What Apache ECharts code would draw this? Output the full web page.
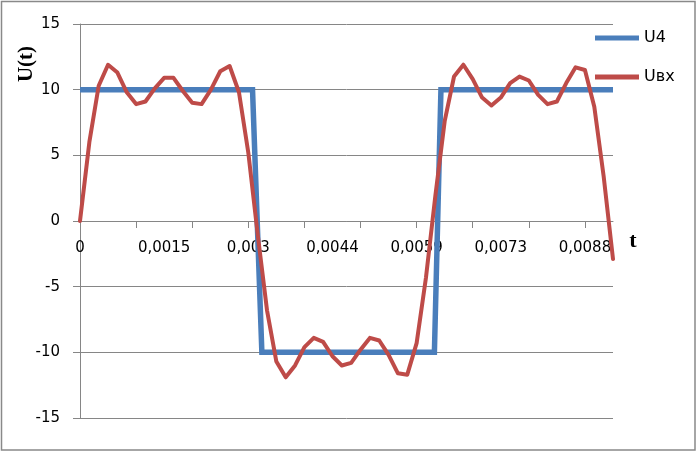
<!DOCTYPE html>
<html><head><meta charset="utf-8">
<script src="https://cdn.jsdelivr.net/npm/echarts@6/dist/echarts.min.js"></script>
<style>html,body{margin:0;padding:0;background:#fff}#c{width:697px;height:452px}</style>
</head><body><div id="c"></div>
<script>
// x tick labels shown every 9th sample
const tickLabels = ["0", "0,0015", "0,003", "0,0044", "0,0059", "0,0073", "0,0088"];
// Uвх sampled values (58 samples)
const uvx = [0, 6.0, 10.3, 11.9, 11.3, 9.8, 8.9, 9.1, 10.1, 10.9, 10.9, 9.9, 9.0, 8.9, 10.0, 11.4, 11.8, 9.8, 5.2, -1.0,
  -6.8, -10.7, -11.9, -11.0, -9.6, -8.9, -9.2, -10.3, -11.0, -10.8, -9.8, -8.9, -9.1, -10.2, -11.6, -11.7, -9.3, -4.3, 1.9,
  7.6, 11.0, 11.9, 10.8, 9.4, 8.8, 9.4, 10.5, 11.0, 10.7, 9.6, 8.9, 9.1, 10.5, 11.7, 11.5, 8.7, 3.4, -2.9];
// U4 square wave corners (position in sample units, value)
const u4X = [0, 18.45, 19.45, 37.9, 38.6, 57];
const u4Y = [10, 10, -10, -10, 10, 10];
const seriesNames = ["U4", "Uвх"];

const categories = uvx.map((_, i) => String(i));
const gray = '#868686';
const font = 'DejaVu Sans';
const gridTop = 24, gridBottom = 34, H = 452;
// the x axis sits on the zero line, which is the middle of the -15..15 range
const zeroOffset = -(H - gridTop - gridBottom) / 2;
const chart = echarts.init(document.getElementById('c'), null, {renderer: 'canvas'});
chart.setOption({
  animation: false,
  backgroundColor: '#fff',
  grid: {left: 80, right: 84, top: gridTop, bottom: gridBottom, containLabel: false},
  legend: {
    orient: 'vertical', left: 595, top: 30, padding: 0,
    itemWidth: 44, itemHeight: 5, itemGap: 23, icon: 'rect',
    textStyle: {fontFamily: font, fontSize: 16, color: '#000', lineHeight: 16},
    data: seriesNames
  },
  xAxis: [{
    type: 'category', data: categories, boundaryGap: false, position: 'bottom', offset: zeroOffset,
    axisLine: {onZero: false, lineStyle: {color: gray, width: 1}},
    axisTick: {show: true, interval: 5, length: 7, lineStyle: {color: gray}},
    axisLabel: {interval: 8, margin: 20, color: '#000', fontFamily: font, fontSize: 15,
      formatter: (v, i) => (i % 9 === 0 && tickLabels[i / 9] !== undefined) ? tickLabels[i / 9] : ''},
    splitLine: {show: false}
  }, {
    type: 'value', min: 0, max: uvx.length - 1, show: false
  }],
  yAxis: {
    type: 'value', min: -15, max: 15, interval: 5,
    axisLine: {show: true, onZero: false, lineStyle: {color: gray, width: 1}},
    axisTick: {show: true, length: 7, lineStyle: {color: gray}},
    axisLabel: {margin: 20, color: '#000', fontFamily: font, fontSize: 15},
    splitLine: {show: true, lineStyle: {color: gray, width: 1}}
  },
  series: [{
    name: seriesNames[0], type: 'line', xAxisIndex: 1,
    data: u4X.map((x, i) => [x, u4Y[i]]),
    symbol: 'none', lineStyle: {color: '#4A7EBB', width: 5.5, join: 'miter'},
    itemStyle: {color: '#4A7EBB'}
  }, {
    name: seriesNames[1], type: 'line', xAxisIndex: 0, data: uvx,
    symbol: 'none', lineStyle: {color: '#BE4B48', width: 4, join: 'round', cap: 'round'},
    itemStyle: {color: '#BE4B48'}
  }],
  graphic: [
    {type: 'rect', shape: {x: 1.5, y: 1.5, width: 693.5, height: 448.5},
      style: {fill: null, stroke: '#898989', lineWidth: 1.5}, silent: true},
    {type: 'text', x: 27, y: 64, rotation: Math.PI / 2,
      style: {text: 'U(t)', fontFamily: 'Liberation Serif', fontWeight: 'bold', fontSize: 21,
        fill: '#000', align: 'center', verticalAlign: 'middle'}},
    {type: 'text', x: 633, y: 241,
      style: {text: 't', fontFamily: 'Liberation Serif', fontWeight: 'bold', fontSize: 22,
        fill: '#000', align: 'center', verticalAlign: 'middle'}}
  ]
});
</script></body></html>
